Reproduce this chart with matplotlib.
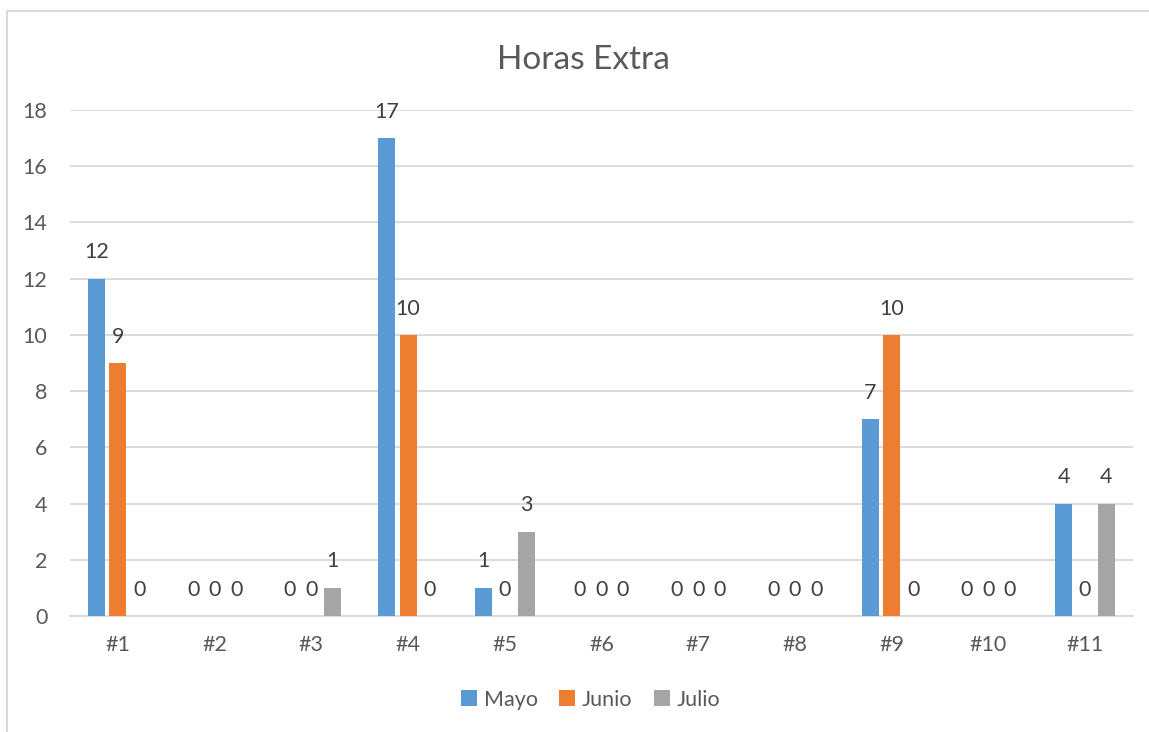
import numpy as np
import matplotlib.pyplot as plt
from matplotlib.patches import Rectangle

categories = ["#1", "#2", "#3", "#4", "#5", "#6", "#7", "#8", "#9", "#10", "#11"]
mayo = [12, 0, 0, 17, 1, 0, 0, 0, 7, 0, 4]
junio = [9, 0, 0, 10, 0, 0, 0, 0, 10, 0, 0]
julio = [0, 0, 1, 0, 3, 0, 0, 0, 0, 0, 4]

series = [("Mayo", mayo, "#5B9BD5"), ("Junio", junio, "#ED7D31"), ("Julio", julio, "#A5A5A5")]
text_color = "#595959"
grid_color = "#D9D9D9"

plt.rcParams["font.family"] = ["Lato", "DejaVu Sans"]

fig = plt.figure(figsize=(11.49, 7.32), dpi=100)
ax = fig.add_axes([0.0606, 0.1585, 0.9258, 0.6912])

x = np.arange(len(categories))
width = 0.176
step = 0.222

for i, (name, vals, color) in enumerate(series):
    pos = x + (i - 1) * step
    bars = ax.bar(pos, vals, width, color=color, label=name, zorder=3)
    for b, v in zip(bars, vals):
        ax.annotate(str(v), (b.get_x() + b.get_width() / 2, v),
                    xytext=(0, 19), textcoords="offset points",
                    ha="center", va="center", fontsize=15.5, color="#404040")

ax.set_xlim(-0.5, len(categories) - 0.5)
ax.set_ylim(0, 18)
ax.set_yticks(range(0, 19, 2))
ax.set_xticks(x)
ax.set_xticklabels(categories)
ax.yaxis.grid(True, color=grid_color, linewidth=1.3, zorder=0)
ax.tick_params(axis="both", length=0, labelsize=15.5, labelcolor=text_color)
ax.tick_params(axis="x", pad=14)
ax.tick_params(axis="y", pad=16)
for side in ["top", "right", "left"]:
    ax.spines[side].set_visible(False)
ax.spines["bottom"].set_color(grid_color)
ax.spines["bottom"].set_linewidth(1.3)

fig.text(0.508, 0.918, "Horas Extra", ha="center", va="center", fontsize=24, color=text_color)

fig.legend(loc="center", bbox_to_anchor=(0.514, 0.044), ncol=3, frameon=False,
           fontsize=15.5, labelcolor=text_color, handlelength=0.75, handleheight=0.75,
           handletextpad=0.3, columnspacing=1.0)

fig.add_artist(Rectangle((7 / 1149, -0.1), 1.2, 1.1 - 11 / 732, transform=fig.transFigure,
                         fill=False, edgecolor=grid_color, linewidth=1.5))

fig.savefig("out.png", dpi=100)
